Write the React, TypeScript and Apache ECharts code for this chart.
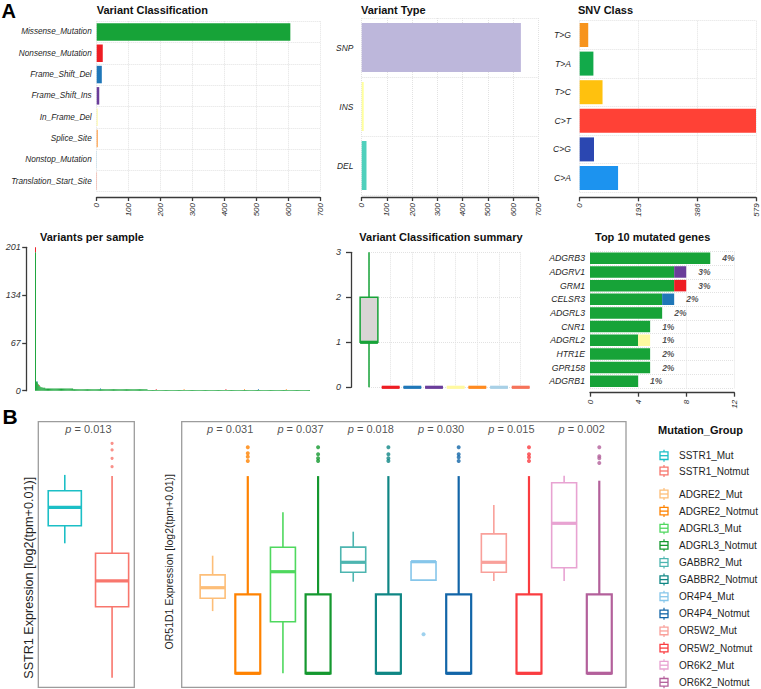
import React, { useEffect, useRef } from "react";
import * as echarts from "echarts";

const FONT = "'Liberation Sans', Arial, Helvetica, sans-serif";
const AXIS = "#3a3a3a";
const TXT = "#1f1f1f";
const GRIDLINE = "#e2e2e2";

// ---------- Panel A data ----------
const VC_CLASSES = [
  "Missense_Mutation", "Nonsense_Mutation", "Frame_Shift_Del", "Frame_Shift_Ins",
  "In_Frame_Del", "Splice_Site", "Nonstop_Mutation", "Translation_Start_Site",
];
const VC_COUNTS = [607, 19, 16, 8, 3, 3, 1, 1];
const VC_COLORS = ["#17A338", "#EE1D23", "#1F77B8", "#6A3D9A", "#FFF9A0", "#FF8A1F", "#A8D0E6", "#F6735A"];

const VT_TYPES = ["SNP", "INS", "DEL"];
const VT_COUNTS = [631, 8, 19];
const VT_COLORS = ["#BDB7DB", "#FFFF9E", "#4FD0BC"];

const SNV_CLASSES = ["T>G", "T>A", "T>C", "C>T", "C>G", "C>A"];
const SNV_COUNTS = [28, 45, 75, 579, 47, 126];
const SNV_COLORS = ["#F7941D", "#12AA4A", "#FFC10E", "#FF4136", "#2B47B1", "#1C93EF"];

// Variants per sample: [value, number of samples] runs, sorted descending
const VPS_MISSENSE_RUNS = [[194, 1], [13, 1], [12, 1], [9, 1], [7, 1], [6, 1], [5, 2], [4, 3], [3, 30], [2, 80], [1, 175]];
const VPS_NONSENSE = [[0, 7], [4, 1], [130, 1], [205, 1]];
const VPS_FSDEL = [[2, 1], [70, 1], [240, 1]];
const VPS_SPLICE = [[160, 1], [225, 1], [270, 1]];

// Variant classification summary: [min, q1, median, q3, max]
const VCS_BOXES = [
  [0, 1, 1, 2, 3], [0, 0, 0, 0, 0], [0, 0, 0, 0, 0], [0, 0, 0, 0, 0],
  [0, 0, 0, 0, 0], [0, 0, 0, 0, 0], [0, 0, 0, 0, 0], [0, 0, 0, 0, 0],
];

// Top 10 mutated genes
const GENES = ["ADGRB3", "ADGRV1", "GRM1", "CELSR3", "ADGRL3", "CNR1", "ADGRL2", "HTR1E", "GPR158", "ADGRB1"];
const GENE_MISSENSE = [10, 7, 7, 6, 6, 5, 4, 5, 5, 4];
const GENE_FS_INS = [0, 1, 0, 0, 0, 0, 0, 0, 0, 0];
const GENE_NONSENSE = [0, 0, 1, 0, 0, 0, 0, 0, 0, 0];
const GENE_FS_DEL = [0, 0, 0, 1, 0, 0, 0, 0, 0, 0];
const GENE_INFRAME_DEL = [0, 0, 0, 0, 0, 0, 1, 0, 0, 0];
const GENE_PCT = ["4%", "3%", "3%", "2%", "2%", "1%", "1%", "2%", "2%", "1%"];

// ---------- Panel B data (log2(tpm+0.01)) ----------
const SSTR1_GROUPS = ["SSTR1_Mut", "SSTR1_Notmut"];
const SSTR1_COLORS = ["#1CBFC6", "#F8766D"];
const SSTR1_BOXES = [
  [0.08, 0.96, 1.88, 2.71, 3.5],
  [-6.64, -3.09, -1.8, -0.42, 3.45],
];
const SSTR1_OUTLIERS = [[], [5.08, 4.75, 4.33, 3.91]];
const SSTR1_P = "0.013";

const OR_GROUPS = [
  "ADGRE2_Mut", "ADGRE2_Notmut", "ADGRL3_Mut", "ADGRL3_Notmut", "GABBR2_Mut", "GABBR2_Notmut",
  "OR4P4_Mut", "OR4P4_Notmut", "OR5W2_Mut", "OR5W2_Notmut", "OR6K2_Mut", "OR6K2_Notmut",
];
const OR_COLORS = [
  "#FDBE78", "#FF8200", "#4FD85E", "#14982F", "#4DB5B0", "#0F8684",
  "#86C6EA", "#1265A8", "#F9A09A", "#FA3C40", "#E8A3D2", "#B3609B",
];
const OR_BOXES = [
  [-3.53, -2.89, -2.36, -1.72, -0.76],
  [-6.64, -6.64, -6.64, -2.69, 3.22],
  [-6.64, -4.06, -1.56, -0.34, 1.41],
  [-6.64, -6.64, -6.64, -2.69, 3.22],
  [-2.06, -1.59, -1.09, -0.33, 0.44],
  [-6.64, -6.64, -6.64, -2.69, 3.22],
  [-1.98, -1.98, -1.06, -1.06, -1.06],
  [-6.64, -6.64, -6.64, -2.69, 3.22],
  [-2.02, -1.59, -1.09, 0.33, 1.78],
  [-6.64, -6.64, -6.64, -2.69, 3.22],
  [-2.02, -1.36, 0.86, 2.89, 3.24],
  [-6.64, -6.64, -6.64, -2.69, 2.99],
];
const OR_OUTLIERS = [
  [], [4.66, 4.36, 4.19, 3.97],
  [], [4.66, 4.31, 4.11, 3.98],
  [], [4.66, 4.31, 4.11, 3.98],
  [-4.69], [4.66, 4.31, 4.16, 3.98],
  [], [4.66, 4.31, 4.16, 3.98],
  [], [4.66, 4.21, 4.11, 3.88],
];
const OR_P = ["0.031", "0.037", "0.018", "0.030", "0.015", "0.002"];

// ---------- helpers ----------
function expandRuns(runs: number[][]): number[] {
  const out: number[] = [];
  runs.forEach(([v, n]) => {
    for (let i = 0; i < n; i++) out.push(v);
  });
  return out;
}
const VPS_M = expandRuns(VPS_MISSENSE_RUNS);
const VPS_N = VPS_M.length;
function sparse(pairs: number[][]): number[] {
  const a: number[] = new Array(VPS_N).fill(0);
  pairs.forEach(([i, v]) => (a[i] = v));
  return a;
}

function boxRenderer(colors: string[], frac: number, lineW: (i: number) => number, medW: number, fill: (i: number) => string) {
  return (params: any, api: any) => {
    const i = params.dataIndex;
    const x = api.value(0);
    const mn = api.value(1), q1 = api.value(2), md = api.value(3), q3 = api.value(4), mx = api.value(5);
    const pMin = api.coord([x, mn]);
    const cx = pMin[0];
    const yMin = pMin[1];
    const yQ1 = api.coord([x, q1])[1];
    const yMd = api.coord([x, md])[1];
    const yQ3 = api.coord([x, q3])[1];
    const yMax = api.coord([x, mx])[1];
    const half = (api.size([1, 0])[0] * frac) / 2;
    const c = colors[i];
    const lw = lineW(i);
    return {
      type: "group",
      children: [
        { type: "line", shape: { x1: cx, y1: yMax, x2: cx, y2: yQ3 }, style: { stroke: c, lineWidth: lw } },
        { type: "line", shape: { x1: cx, y1: yQ1, x2: cx, y2: yMin }, style: { stroke: c, lineWidth: lw } },
        {
          type: "rect",
          shape: { x: cx - half, y: yQ3, width: half * 2, height: Math.max(0, yQ1 - yQ3) },
          style: { fill: fill(i), stroke: c, lineWidth: lw },
        },
        { type: "line", shape: { x1: cx - half, y1: yMd, x2: cx + half, y2: yMd }, style: { stroke: c, lineWidth: medW } },
      ],
    };
  };
}

const lbl = { fontFamily: FONT, color: TXT };

function catYAxis(gridIndex: number, data: string[], margin: number, fontSize: number) {
  return {
    type: "category", gridIndex, data, inverse: true,
    axisLine: { show: false }, axisTick: { show: false },
    axisLabel: { ...lbl, fontSize, fontStyle: "italic", margin, interval: 0 },
    splitLine: { show: true, interval: 0, lineStyle: { color: GRIDLINE, type: "dotted", width: 1 } },
  };
}
function valXAxis(gridIndex: number, max: number, interval: number, offset: number, margin: number) {
  return {
    type: "value", gridIndex, min: 0, max, interval, offset,
    axisLine: { show: true, onZero: false, lineStyle: { color: AXIS, width: 1.3 } },
    axisTick: { show: true, length: 4, lineStyle: { color: AXIS, width: 1.3 } },
    axisLabel: { ...lbl, color: "#333", fontSize: 8, fontStyle: "italic", rotate: 90, margin, showMinLabel: true, showMaxLabel: true },
    splitLine: { show: true, lineStyle: { color: GRIDLINE, type: "dotted", width: 1 } },
  };
}
function hiddenAxis(gridIndex: number, min: number, max: number) {
  return { type: "value", gridIndex, min, max, show: false, splitLine: { show: false } };
}

// layout constants (pixels / axis-space positions)
const P_Y_LEFT = 5.78;
const P_Y_MID = 5.56;

function buildOption(): any {
  const titles = [
    { text: "Variant Classification", x: 96.7, y: 9.8 },
    { text: "Variant Type", x: 361, y: 9.8 },
    { text: "SNV Class", x: 578, y: 9.8 },
    { text: "Variants per sample", x: 40, y: 237.3 },
    { text: "Variant Classification summary", x: 359.3, y: 237.3 },
    { text: "Top 10 mutated genes", x: 595, y: 237.3 },
  ];
  const graphics: any[] = titles.map((t) => ({
    type: "text", x: t.x, y: t.y, silent: true,
    style: { text: t.text, fontFamily: FONT, fontSize: 11, fontWeight: "bold", fill: "#111", verticalAlign: "middle", align: "left" },
  }));
  graphics.push({ type: "text", x: 1.5, y: 11.2, style: { text: "A", fontFamily: FONT, fontSize: 20, fontWeight: "bold", fill: "#000", verticalAlign: "middle" } });
  graphics.push({ type: "text", x: 2.5, y: 416, style: { text: "B", fontFamily: FONT, fontSize: 21, fontWeight: "bold", fill: "#000", verticalAlign: "middle" } });
  graphics.push({
    type: "text", x: 29.3, y: 577.8, rotation: Math.PI / 2,
    style: { text: "SSTR1 Expression [log2(tpm+0.01)]", fontFamily: FONT, fontSize: 12.6, fill: TXT, align: "center", verticalAlign: "middle" },
  });
  graphics.push({
    type: "text", x: 169.3, y: 561.7, rotation: Math.PI / 2,
    style: { text: "OR51D1 Expression [log2(tpm+0.01)]", fontFamily: FONT, fontSize: 10.5, fill: TXT, align: "center", verticalAlign: "middle" },
  });
  // legend
  graphics.push({
    type: "text", x: 658, y: 430,
    style: { text: "Mutation_Group", fontFamily: FONT, fontSize: 11, fontWeight: "bold", fill: "#111", verticalAlign: "middle" },
  });
  const allGroups = [...SSTR1_GROUPS, ...OR_GROUPS];
  const allColors = [...SSTR1_COLORS, ...OR_COLORS];
  allGroups.forEach((g, i) => {
    const y = i < 2 ? 455.7 + i * 15.3 : 494 + (i - 2) * 17.12;
    const c = allColors[i];
    graphics.push({
      type: "group", x: 664, y,
      children: [
        { type: "line", shape: { x1: 0, y1: -6, x2: 0, y2: 6 }, style: { stroke: c, lineWidth: 1.2 } },
        { type: "rect", shape: { x: -4, y: -3.8, width: 8, height: 7.6 }, style: { fill: "#fff", stroke: c, lineWidth: 1.3 } },
        { type: "line", shape: { x1: -4, y1: 0, x2: 4, y2: 0 }, style: { stroke: c, lineWidth: 1.3 } },
      ],
    });
    graphics.push({
      type: "text", x: 679, y,
      style: { text: g, fontFamily: FONT, fontSize: 10, fill: TXT, verticalAlign: "middle" },
    });
  });

  const geneTotals = GENES.map((_, i) => GENE_MISSENSE[i] + GENE_FS_INS[i] + GENE_NONSENSE[i] + GENE_FS_DEL[i] + GENE_INFRAME_DEL[i]);

  const series: any[] = [];
  // VC bars
  series.push({
    type: "bar", xAxisIndex: 0, yAxisIndex: 0, barWidth: 17.5, silent: true,
    data: VC_COUNTS.map((v, i) => ({ value: v, itemStyle: { color: VC_COLORS[i] } })),
  });
  series.push({
    type: "bar", xAxisIndex: 1, yAxisIndex: 1, barWidth: 49, silent: true,
    data: VT_COUNTS.map((v, i) => ({ value: v, itemStyle: { color: VT_COLORS[i] } })),
  });
  series.push({
    type: "bar", xAxisIndex: 2, yAxisIndex: 2, barWidth: 24, silent: true,
    data: SNV_COUNTS.map((v, i) => ({ value: v, itemStyle: { color: SNV_COLORS[i] } })),
  });
  // VPS stacked
  const vpsSeries: [number[], string][] = [
    [VPS_M, VC_COLORS[0]],
    [sparse(VPS_NONSENSE), VC_COLORS[1]],
    [sparse(VPS_FSDEL), VC_COLORS[2]],
    [sparse(VPS_SPLICE), VC_COLORS[5]],
  ];
  vpsSeries.forEach(([d, c]) => {
    series.push({
      type: "bar", xAxisIndex: 3, yAxisIndex: 3, stack: "vps", barCategoryGap: "10%", silent: true,
      itemStyle: { color: c }, data: d,
    });
  });
  // VCS boxes
  series.push({
    type: "custom", xAxisIndex: 4, yAxisIndex: 4, silent: true,
    renderItem: boxRenderer(VC_COLORS, 0.82, () => 1.5, 3.2, (i) => (i === 0 ? "#D9D5D5" : "none")),
    data: VCS_BOXES.map((b, i) => [i, ...b]),
    encode: { x: 0, y: [1, 2, 3, 4, 5] },
  });
  // genes stacked
  const geneSeries: [number[], string][] = [
    [GENE_MISSENSE, VC_COLORS[0]],
    [GENE_FS_INS, VC_COLORS[3]],
    [GENE_NONSENSE, VC_COLORS[1]],
    [GENE_FS_DEL, VC_COLORS[2]],
    [GENE_INFRAME_DEL, VC_COLORS[4]],
  ];
  geneSeries.forEach(([d, c]) => {
    series.push({
      type: "bar", xAxisIndex: 5, yAxisIndex: 5, stack: "genes", barWidth: 11.5, silent: true,
      itemStyle: { color: c }, data: d,
    });
  });
  series.push({
    type: "scatter", xAxisIndex: 5, yAxisIndex: 5, symbolSize: 0, silent: true,
    data: GENES.map((g, i) => [geneTotals[i], g]),
    label: {
      show: true, position: "right", distance: 12, formatter: (p: any) => GENE_PCT[p.dataIndex],
      fontFamily: FONT, fontSize: 8.5, fontWeight: "bold", fontStyle: "italic", color: TXT,
    },
  });
  // SSTR1 panel
  series.push({
    type: "custom", xAxisIndex: 6, yAxisIndex: 6, silent: true,
    renderItem: boxRenderer(SSTR1_COLORS, 0.7, () => 1.6, 3.2, () => "#fff"),
    data: SSTR1_BOXES.map((b, i) => [i + 1, ...b]),
    encode: { x: 0, y: [1, 2, 3, 4, 5] },
  });
  series.push({
    type: "scatter", xAxisIndex: 6, yAxisIndex: 6, symbolSize: 3.2, silent: true,
    data: SSTR1_OUTLIERS.flatMap((arr, i) => arr.map((v) => ({ value: [i + 1, v], itemStyle: { color: SSTR1_COLORS[i] } }))),
  });
  const pRich = { i: { fontStyle: "italic", fontFamily: FONT, fontSize: 11, color: TXT } };
  series.push({
    type: "scatter", xAxisIndex: 6, yAxisIndex: 6, symbolSize: 0, silent: true,
    data: [[1.5, P_Y_LEFT]],
    label: { show: true, position: "inside", formatter: "{i|p} = " + SSTR1_P, fontFamily: FONT, fontSize: 11, color: TXT, rich: pRich },
  });
  // OR panel
  series.push({
    type: "custom", xAxisIndex: 7, yAxisIndex: 7, silent: true,
    renderItem: boxRenderer(OR_COLORS, 0.71, (i) => (i % 2 === 1 ? 2.2 : 1.6), 3.2, () => "#fff"),
    data: OR_BOXES.map((b, i) => [i + 1, ...b]),
    encode: { x: 0, y: [1, 2, 3, 4, 5] },
  });
  series.push({
    type: "scatter", xAxisIndex: 7, yAxisIndex: 7, symbolSize: 4, silent: true,
    data: OR_OUTLIERS.flatMap((arr, i) => arr.map((v) => ({ value: [i + 1, v], itemStyle: { color: OR_COLORS[i] } }))),
  });
  series.push({
    type: "scatter", xAxisIndex: 7, yAxisIndex: 7, symbolSize: 0, silent: true,
    data: OR_P.map((_, k) => [2 * k + 1.5, P_Y_MID]),
    label: {
      show: true, position: "inside", formatter: (p: any) => "{i|p} = " + OR_P[p.dataIndex],
      fontFamily: FONT, fontSize: 11, color: TXT, rich: pRich,
    },
  });

  return {
    animation: false,
    backgroundColor: "#fff",
    textStyle: { fontFamily: FONT },
    grid: [
      { left: 96.7, top: 21.3, width: 223.3, height: 170.4 },
      { left: 361.7, top: 18, width: 176.6, height: 177 },
      { left: 579.7, top: 20.7, width: 176.3, height: 171.6 },
      { left: 35, top: 247.3, width: 275, height: 143.4 },
      { left: 369, top: 252.3, width: 151.7, height: 135 },
      { left: 590, top: 251.5, width: 144.3, height: 136.5 },
      { left: 38.3, top: 421.7, width: 96, height: 265.6, show: true, borderColor: "#9c9c9c", borderWidth: 1.3, backgroundColor: "transparent" },
      { left: 181.7, top: 421.7, width: 444.3, height: 265.6, show: true, borderColor: "#9c9c9c", borderWidth: 1.3, backgroundColor: "transparent" },
    ],
    xAxis: [
      valXAxis(0, 700, 100, 5.3, 6),
      valXAxis(1, 700, 100, 2, 6),
      valXAxis(2, 579, 193, 5, 6),
      { type: "category", gridIndex: 3, data: VPS_M.map((_, i) => "S" + i), show: false },
      {
        type: "category", gridIndex: 4, data: VC_CLASSES, boundaryGap: false,
        axisLine: { show: false }, axisTick: { show: false }, axisLabel: { show: false },
        splitLine: { show: true, interval: 0, lineStyle: { color: GRIDLINE, type: "dotted" } },
      },
      valXAxis(5, 12, 4, 4.7, 7),
      hiddenAxis(6, 0.44, 2.47),
      hiddenAxis(7, 0.12, 12.76),
    ],
    yAxis: [
      catYAxis(0, VC_CLASSES, 5, 8.2),
      catYAxis(1, VT_TYPES, 8.4, 8.4),
      catYAxis(2, SNV_CLASSES, 8.7, 8.6),
      {
        type: "value", gridIndex: 3, min: 0, max: 201, interval: 67, offset: 8.3,
        axisLine: { show: true, lineStyle: { color: AXIS, width: 1.3 } },
        axisTick: { show: true, length: 4.5, lineStyle: { color: AXIS, width: 1.3 } },
        axisLabel: { ...lbl, color: "#333", fontSize: 9, fontStyle: "italic", margin: 6, showMinLabel: true, showMaxLabel: true },
        splitLine: { show: false },
      },
      {
        type: "value", gridIndex: 4, min: 0, max: 3, interval: 1, offset: 18,
        axisLine: { show: true, lineStyle: { color: AXIS, width: 1.3 } },
        axisTick: { show: true, length: 5, lineStyle: { color: AXIS, width: 1.3 } },
        axisLabel: { ...lbl, color: "#333", fontSize: 9, fontStyle: "italic", margin: 10 },
        splitLine: { show: true, lineStyle: { color: GRIDLINE, type: "dotted" } },
      },
      catYAxis(5, GENES, 5, 8.7),
      hiddenAxis(6, -7.12, 6.16),
      hiddenAxis(7, -7.34, 5.94),
    ],
    graphic: graphics,
    series,
  };
}

export default function App() {
  const ref = useRef<HTMLDivElement>(null);
  useEffect(() => {
    const chart = echarts.init(ref.current!, undefined, { renderer: "svg" });
    chart.setOption(buildOption());
    return () => chart.dispose();
  }, []);
  return (
    <div
      ref={ref}
      style={{ position: "fixed", left: 0, top: 0, width: 761, height: 689, background: "#fff" }}
    />
  );
}
